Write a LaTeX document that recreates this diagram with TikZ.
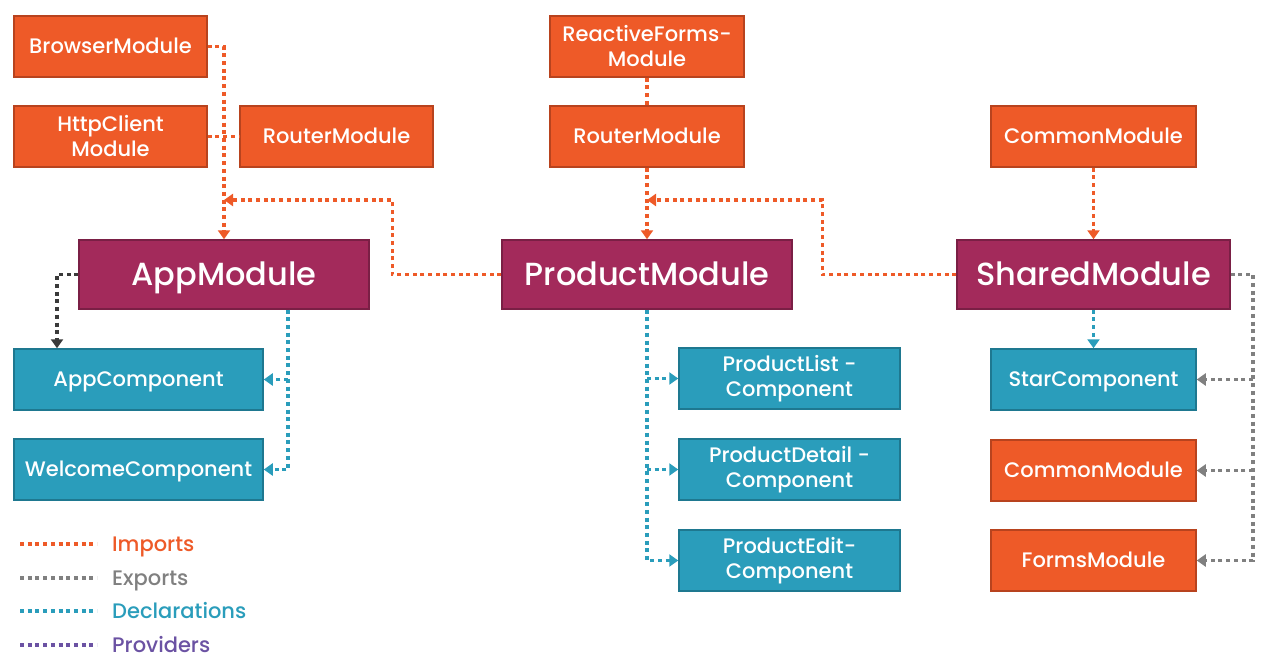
\documentclass[tikz,border=0pt]{standalone}
\usepackage{fontspec}
\setmainfont{Poppins}[UprightFont=*-Medium, BoldFont=*-SemiBold]
\usetikzlibrary{arrows.meta}
\definecolor{orng}{HTML}{EE5A28}
\definecolor{orngb}{HTML}{B8431E}
\definecolor{purp}{HTML}{A32A5B}
\definecolor{purpb}{HTML}{7A1F45}
\definecolor{teal2}{HTML}{2A9DBB}
\definecolor{tealb}{HTML}{1E7890}
\definecolor{expg}{HTML}{808080}
\definecolor{expd}{HTML}{3A3A3A}
\definecolor{provc}{HTML}{6B52A3}
\tikzset{
  box/.style={draw, line width=1.5pt, inner sep=0pt, align=center, text=white, font=\fontsize{21}{25}\selectfont},
  one/.style={text height=14.7pt, text depth=0pt},
  omod/.style={box, fill=orng, draw=orngb},
  pmod/.style={box, fill=purp, draw=purpb, font=\fontsize{32}{36}\selectfont, text height=22.4pt, text depth=0pt},
  comp/.style={box, fill=teal2, draw=tealb},
  dots/.style={line width=3.5pt, dash pattern=on 4pt off 3.7pt},
  tip/.style={-{Triangle[length=9pt,width=12pt]}},
  imp/.style={dots, draw=orng},
  decl/.style={dots, draw=teal2},
  expo/.style={dots, draw=expg},
  expk/.style={dots, draw=expd},
  prov/.style={dots, draw=provc},
  legtext/.style={anchor=west, inner sep=0pt, one, font=\fontsize{21}{25}\selectfont}
}
\begin{document}
\begin{tikzpicture}[x=1pt,y=-1pt]
\useasboundingbox (0,0) rectangle (1270,659);
\fill[white] (0,0) rectangle (1270,659);
% modules (imports)
\node[omod, one, minimum width=193pt, minimum height=61pt] (browser) at (110.5,46.5) {BrowserModule};
\node[omod, minimum width=193pt, minimum height=61pt] (http) at (110.5,136.5) {HttpClient\\Module};
\node[omod, one, minimum width=193pt, minimum height=61pt] (routerL) at (336.5,136.5) {RouterModule};
\node[omod, minimum width=194pt, minimum height=61pt] (reactive) at (647,46.5) {ReactiveForms-\\Module};
\node[omod, one, minimum width=194pt, minimum height=61pt] (routerM) at (647,136.5) {RouterModule};
\node[omod, one, minimum width=205pt, minimum height=61pt] (commonT) at (1093.5,136.5) {CommonModule};
% main modules
\node[pmod, minimum width=290pt, minimum height=69pt] (app) at (224,274.5) {AppModule};
\node[pmod, minimum width=290pt, minimum height=69pt] (product) at (647,274.5) {ProductModule};
\node[pmod, minimum width=273pt, minimum height=69pt] (shared) at (1093.5,274.5) {SharedModule};
% components
\node[comp, one, minimum width=249pt, minimum height=61pt] (appc) at (138.5,379.5) {AppComponent};
\node[comp, one, minimum width=249pt, minimum height=61pt] (welc) at (138.5,469.5) {WelcomeComponent};
\node[comp, minimum width=221pt, minimum height=61pt] (plist) at (789.5,378.5) {ProductList -\\Component};
\node[comp, minimum width=221pt, minimum height=61pt] (pdet) at (789.5,469.5) {ProductDetail -\\Component};
\node[comp, minimum width=221pt, minimum height=61pt] (pedit) at (789.5,560.5) {ProductEdit-\\Component};
\node[comp, one, minimum width=205pt, minimum height=61pt] (star) at (1093.5,379.5) {StarComponent};
\node[omod, one, minimum width=205pt, minimum height=61pt] (commonR) at (1093.5,470.5) {CommonModule};
\node[omod, one, minimum width=205pt, minimum height=61pt] (forms) at (1093.5,560.5) {FormsModule};
% junction coordinates
\coordinate (jA) at (224,200);
\coordinate (jP) at (647,200);
\coordinate (dA) at (288,309.5);
\coordinate (eS) at (1253,274.5);
% imports
\draw[imp,tip] (browser.east) -| (app.north);
\draw[imp] (http.east) -- (routerL.west);
\draw[imp,tip] (product.west) -- ++(-109,0) |- (jA);
\draw[imp] (reactive.south) -- (routerM.north);
\draw[imp,tip] (routerM.south) -- (product.north);
\draw[imp,tip] (shared.west) -- ++(-134,0) |- (jP);
\draw[imp,tip] (commonT.south) -- (shared.north);
% exports
\draw[expk,tip] (app.west) -| (appc.north -| 57,0);
\draw[expo,tip] (shared.east) -- (eS) |- (forms.east);
\draw[expo,tip] (eS |- star.east) -- (star.east);
\draw[expo,tip] (eS |- commonR.east) -- (commonR.east);
% declarations
\draw[decl,tip] (dA) |- (welc.east);
\draw[decl,tip] (dA |- appc.east) -- (appc.east);
\draw[decl,tip] (product.south) |- (pedit.west);
\draw[decl,tip] (product.south |- plist.west) -- (plist.west);
\draw[decl,tip] (product.south |- pdet.west) -- (pdet.west);
\draw[decl,tip] (shared.south) -- (star.north);
% legend
\coordinate (l1a) at (20,544); \coordinate (l1b) at (97,544);
\coordinate (l2a) at (20,578); \coordinate (l2b) at (97,578);
\coordinate (l3a) at (20,611); \coordinate (l3b) at (97,611);
\coordinate (l4a) at (20,645); \coordinate (l4b) at (97,645);
\draw[imp] (l1a) -- (l1b);
\draw[expo] (l2a) -- (l2b);
\draw[decl] (l3a) -- (l3b);
\draw[prov] (l4a) -- (l4b);
\node[legtext, text=orng] (limp) at (112,544) {Imports};
\node[legtext, text=expg] (lexp) at (112,578) {Exports};
\node[legtext, text=teal2] (ldecl) at (112,611) {Declarations};
\node[legtext, text=provc] (lprov) at (112,645) {Providers};
\end{tikzpicture}
\end{document}
